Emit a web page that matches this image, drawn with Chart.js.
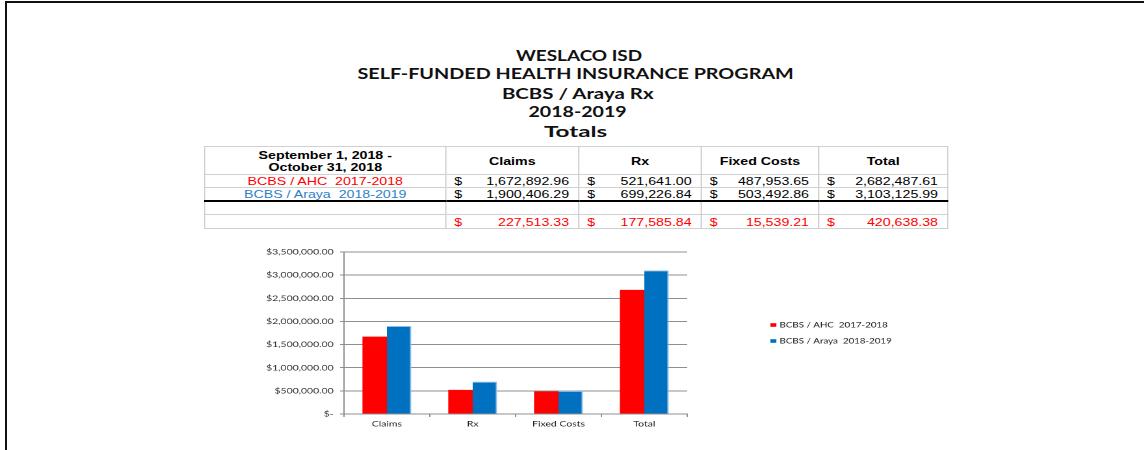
<!DOCTYPE html>
<html>
<head>
<meta charset="utf-8">
<script src="https://cdn.jsdelivr.net/npm/chart.js"></script>
<style>
body { margin: 0; width: 1144px; height: 450px; overflow: hidden; background: #fff; position: relative; }
#frame { position: absolute; left: 5px; top: 1px; width: 1200px; height: 500px; border-left: 2px solid #111; border-top: 2px solid #111; }
.t { position: absolute; font: bold 15px Lato, sans-serif; line-height: 18px; white-space: pre; color: #111; transform-origin: 50% 50%; }
#tblWrap { position: absolute; left: 204px; top: 146px; width: 576px; transform: scaleX(1.29); transform-origin: 0 0; }
table { border-collapse: collapse; table-layout: fixed; width: 576px; font: 11px "Liberation Sans", Arial, sans-serif; color: #000; }
td { border: 1px solid #d0d0d0; padding: 0; line-height: 12px; white-space: pre; overflow: hidden; text-align: center; vertical-align: middle; }
tr.head td { font-weight: bold; height: 27px; }
tr.r td { height: 12px; }
tr.r2 td { border-bottom: 2px solid #000; }
tr.last td { height: 13px; }
.v { display: flex; justify-content: space-between; padding: 0 7px 0 6px; }
.red { color: #ff0000; }
.blue { color: #2f80c8; }
#cw { position: absolute; left: 240px; top: 240px; transform: scaleX(1.3); transform-origin: 0 0; }
</style>
</head>
<body>
<div id="frame"></div>
<div id="titles"></div>
<div id="tblWrap"><table id="tbl"></table></div>
<div id="cw"><canvas id="chart" width="520" height="205"></canvas></div>
<script>
// Titles
const titleLines = ['WESLACO ISD', 'SELF-FUNDED HEALTH INSURANCE PROGRAM', 'BCBS / Araya Rx', '2018-2019', 'Totals'];

// Table / chart data
const periodLabel = ['September 1, 2018 -', 'October 31, 2018'];
const categories = ['Claims', 'Rx', 'Fixed Costs', 'Total'];
const seriesNames = ['BCBS / AHC  2017-2018', 'BCBS / Araya  2018-2019'];
const ahcValues = [1672892.96, 521641.00, 487953.65, 2682487.61];
const arayaValues = [1900406.29, 699226.84, 503492.86, 3103125.99];
const yTicks = [0, 500000, 1000000, 1500000, 2000000, 2500000, 3000000, 3500000];

const money = v => v.toLocaleString('en-US', {minimumFractionDigits: 2, maximumFractionDigits: 2});

// Title lines, stretched to match the reference widths
const titleBox = document.getElementById('titles');
const titleFit = [[579, 55, 126], [575, 73.3, 436], [577, 92.7, 151], [577, 111, 98], [575, 130.7, 63]];
titleLines.forEach((txt, i) => {
    const el = document.createElement('div');
    el.className = 't';
    el.textContent = txt;
    titleBox.appendChild(el);
    const w = el.offsetWidth;
    const [cx, cy, tw] = titleFit[i];
    el.style.left = (cx - w / 2) + 'px';
    el.style.top = (cy - 9) + 'px';
    el.style.transform = `scaleX(${tw / w})`;
});

// Totals table
function valueCell(v, cls) {
    return `<td><div class="v ${cls || ''}"><span>$</span><span>${money(v)}</span></div></td>`;
}
let html = '<colgroup><col style="width:187px"><col style="width:103px"><col style="width:95px"><col style="width:91px"><col style="width:100px"></colgroup>';
html += `<tr class="head"><td>${periodLabel.join('\n')}</td>` + categories.map(c => `<td>${c}</td>`).join('') + '</tr>';
html += `<tr class="r"><td class="red">${seriesNames[0]}</td>` + ahcValues.map(v => valueCell(v)).join('') + '</tr>';
html += `<tr class="r r2"><td class="blue">${seriesNames[1]}</td>` + arayaValues.map(v => valueCell(v)).join('') + '</tr>';
html += '<tr class="r"><td></td>' + categories.map(() => '<td></td>').join('') + '</tr>';
html += '<tr class="last"><td></td>' + arayaValues.map((v, i) => valueCell(v - ahcValues[i], 'red')).join('') + '</tr>';
document.getElementById('tbl').innerHTML = html;

// Legend drawn to the right of the plot
const sideLegend = {
    id: 'sideLegend',
    afterDraw(chart) {
        const ctx = chart.ctx;
        const x = chart.chartArea.right + 64;
        ctx.save();
        ctx.font = '7.5px Lato, sans-serif';
        ctx.textBaseline = 'middle';
        chart.data.datasets.forEach((ds, i) => {
            const y = 85 + i * 16;
            ctx.fillStyle = ds.backgroundColor;
            ctx.fillRect(x, y - 1.8, 4.6, 3.6);
            ctx.fillStyle = '#222';
            ctx.fillText(ds.label, x + 7, y);
        });
        ctx.restore();
    }
};

const gridColor = '#8e8e8e';
new Chart(document.getElementById('chart'), {
    type: 'bar',
    data: {
        labels: categories,
        datasets: [{
            label: seriesNames[0],
            data: ahcValues,
            backgroundColor: '#ff0000',
            borderWidth: 0
        }, {
            label: seriesNames[1],
            data: arayaValues,
            backgroundColor: '#0070c0',
            borderColor: '#8fbfe6',
            borderWidth: {top: 1, right: 1, left: 0, bottom: 0},
            borderSkipped: 'bottom'
        }]
    },
    options: {
        responsive: false,
        animation: false,
        devicePixelRatio: 2,
        categoryPercentage: 0.57,
        barPercentage: 1,
        layout: { padding: { top: 12, right: 176, left: 0, bottom: 0 } },
        scales: {
            y: {
                min: 0,
                max: yTicks[yTicks.length - 1],
                afterBuildTicks: axis => { axis.ticks = yTicks.map(v => ({value: v})); },
                afterFit: axis => { axis.width = 80; },
                grid: { color: gridColor, tickLength: 3 },
                border: { color: gridColor },
                ticks: {
                    padding: 5,
                    color: '#333',
                    font: { family: 'Lato, sans-serif', size: 8 },
                    callback: v => v === 0 ? '$-' : '$' + money(v)
                }
            },
            x: {
                afterFit: axis => { axis.height = 31; },
                grid: { drawOnChartArea: false, color: gridColor, tickLength: 3 },
                border: { color: gridColor },
                ticks: {
                    padding: 2,
                    color: '#222',
                    font: { family: 'Lato, sans-serif', size: 8 }
                }
            }
        },
        plugins: {
            legend: { display: false },
            tooltip: { enabled: false }
        }
    },
    plugins: [sideLegend]
});
</script>
</body>
</html>
